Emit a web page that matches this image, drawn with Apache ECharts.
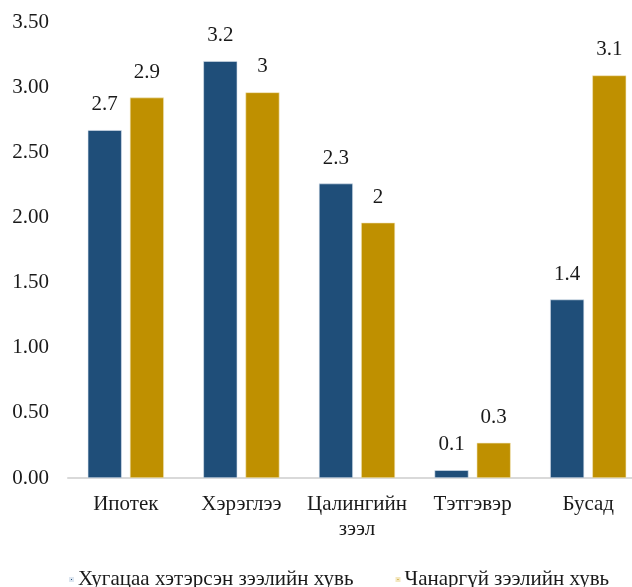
<!DOCTYPE html>
<html><head><meta charset="utf-8">
<script src="https://cdn.jsdelivr.net/npm/echarts@6/dist/echarts.min.js"></script>
<style>html,body{margin:0;padding:0;background:#fff}#c{width:632px;height:587px}</style>
</head><body><div id="c"></div>
<script>
const categories = ['Ипотек', 'Хэрэглээ', 'Цалингийн\nзээл', 'Тэтгэвэр', 'Бусад'];
const seriesNames = ['Хугацаа хэтэрсэн зээлийн хувь', 'Чанаргүй зээлийн хувь'];
const overdue = [2.67, 3.20, 2.26, 0.06, 1.37];
const nonPerforming = [2.92, 2.96, 1.96, 0.27, 3.09];

const font = 'Liberation Serif, Times New Roman, serif';
const txt = '#1a1a1a';
const chart = echarts.init(document.getElementById('c'));
const lbl = {
  show: true, position: 'top', distance: 15,
  fontFamily: font, fontSize: 21, color: txt,
  formatter: p => String(Number(p.value.toFixed(1)))
};
chart.setOption({
  animation: false,
  textStyle: { fontFamily: font },
  grid: { left: 68, right: -14, top: 22, bottom: 109, containLabel: false, outerBoundsMode: 'none' },
  legend: {
    top: 564, left: 64, itemWidth: 3, itemHeight: 3, itemGap: 42,
    icon: 'rect',
    textStyle: { fontFamily: font, fontSize: 21, color: txt }
  },
  xAxis: {
    type: 'category', data: categories,
    axisLine: { lineStyle: { color: '#d9d9d9', width: 2 } },
    axisTick: { show: false },
    axisLabel: { fontFamily: font, fontSize: 21, color: txt, margin: 14, lineHeight: 25, interval: 0 }
  },
  yAxis: {
    type: 'value', min: 0, max: 3.5, interval: 0.5,
    splitLine: { show: false },
    axisLine: { show: false }, axisTick: { show: false },
    axisLabel: { fontFamily: font, fontSize: 21, color: txt, margin: 19, formatter: v => v.toFixed(2) }
  },
  series: [
    { name: seriesNames[0], type: 'bar', data: overdue, barWidth: 34, barGap: '24%',
      itemStyle: { color: '#1F4E79', borderColor: '#dde6f0', borderWidth: 0.6 }, label: lbl },
    { name: seriesNames[1], type: 'bar', data: nonPerforming, barWidth: 34,
      itemStyle: { color: '#BF9000', borderColor: '#f3e7c0', borderWidth: 0.6 }, label: lbl }
  ]
});
</script></body></html>
